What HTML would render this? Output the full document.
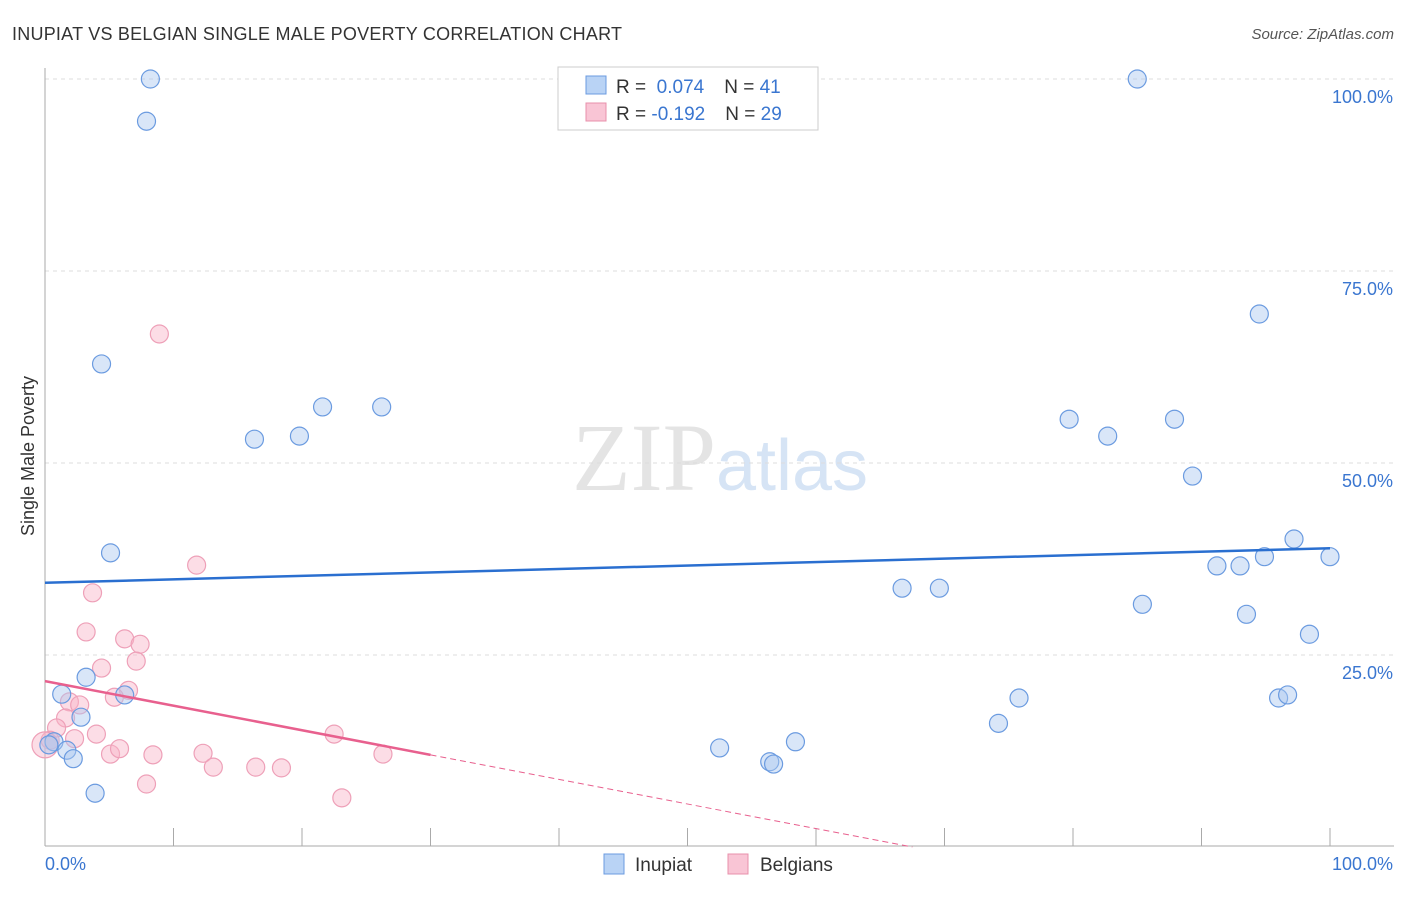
<!DOCTYPE html>
<html><head><meta charset="utf-8"><style>
body{margin:0;background:#fff;font-family:"Liberation Sans",sans-serif}
</style></head><body>
<svg id="chart" width="1406" height="892" xmlns="http://www.w3.org/2000/svg" font-family="Liberation Sans, sans-serif">
<text x="12" y="40" font-size="18" fill="#333" textLength="610">INUPIAT VS BELGIAN SINGLE MALE POVERTY CORRELATION CHART</text>
<text x="1394" y="39" font-size="15" fill="#555" text-anchor="end" font-style="italic">Source: ZipAtlas.com</text>
<text x="720" y="490" font-size="96" text-anchor="middle"><tspan fill="#e4e4e4" font-family="Liberation Serif, serif">ZIP</tspan><tspan fill="#d6e4f5" font-size="72">atlas</tspan></text>
<text transform="translate(34,456) rotate(-90)" font-size="18" fill="#333" text-anchor="middle">Single Male Poverty</text>
<g id="grid"></g><g id="axes"></g><g id="marks"></g>
<g>
<rect x="558" y="67" width="260" height="63" fill="#fff" stroke="#ccc"/>
<rect x="586" y="76" width="20" height="18" fill="#b9d3f5" stroke="#6b9be0"/>
<rect x="586" y="103" width="20" height="18" fill="#f9c5d5" stroke="#e890ab"/>
<text x="616" y="93" font-size="19" fill="#333">R = <tspan fill="#3a76d0">&#160;0.074</tspan><tspan dx="20">N = </tspan><tspan fill="#3a76d0"> 41</tspan></text>
<text x="616" y="120" font-size="19" fill="#333">R = <tspan fill="#3a76d0">-0.192</tspan><tspan dx="20">N = </tspan><tspan fill="#3a76d0"> 29</tspan></text>
</g>
<g>
<rect x="604" y="854" width="20" height="20" fill="#b9d3f5" stroke="#6b9be0"/>
<text x="635" y="871" font-size="19" fill="#333">Inupiat</text>
<rect x="728" y="854" width="20" height="20" fill="#f9c5d5" stroke="#e890ab"/>
<text x="760" y="871" font-size="19" fill="#333">Belgians</text>
</g>
</svg>
<script>
const yTicks=[25,50,75,100];
const xTickLabels=["0.0%","100.0%"];
const inupiatX=[8.2,7.9,85.0,4.4,94.5,21.6,26.2,16.3,19.8,79.7,82.7,87.9,89.3,5.1,97.2,100,91.2,93.0,94.9,66.7,69.6,85.4,93.5,98.4,3.2,1.3,6.2,2.8,75.8,74.2,96.0,96.7,52.5,58.4,56.4,56.7,3.9,0.7,1.7,2.2,0.3];
const inupiatY=[100,94.5,100,62.9,69.4,57.3,57.3,53.1,53.5,55.7,53.5,55.7,48.3,38.3,40.1,37.8,36.6,36.6,37.8,33.7,33.7,31.6,30.3,27.7,22.1,19.9,19.8,16.9,19.4,16.1,19.4,19.8,12.9,13.7,11.1,10.8,7.0,13.7,12.6,11.5,13.3];
const belgX=[8.9,11.8,3.7,3.2,6.2,7.4,7.1,4.4,6.5,5.4,1.9,2.7,1.6,0.9,4.0,2.3,0.4,0,5.1,5.8,8.4,12.3,13.1,16.4,18.4,22.5,26.3,7.9,23.1];
const belgY=[66.8,36.7,33.1,28.0,27.1,26.4,24.2,23.3,20.4,19.5,18.9,18.5,16.8,15.5,14.7,14.1,13.9,13.3,12.1,12.8,12.0,12.2,10.4,10.4,10.3,14.7,12.1,8.2,6.4];
const inupiatTrend=[34.4,38.9];
const belgTrend=[21.6,12.0];
const belgSolidEnd=30;
const NS="http://www.w3.org/2000/svg";
const X=v=>45+v*12.85, Y=v=>847-v*7.68;
function mk(parent,tag,attrs){const e=document.createElementNS(NS,tag);for(const k in attrs)e.setAttribute(k,attrs[k]);document.getElementById(parent).appendChild(e);return e;}
yTicks.forEach(t=>{
 const l=mk('grid','line',{x1:45,x2:1394,y1:Y(t),y2:Y(t),stroke:'#ddd','stroke-dasharray':'4,4'});
 
 
 const tx=mk('grid','text',{x:1393,y:Y(t)+24,'font-size':18,fill:'#3a76d0','text-anchor':'end'});
 tx.textContent=t.toFixed(1)+'%';
 
 
});
let ax=mk('axes','line',{x1:45,x2:45,y1:68,y2:846,stroke:'#aaa'});


ax=mk('axes','line',{x1:45,x2:1394,y1:846,y2:846,stroke:'#aaa'});


for(let i=1;i<=10;i++){const t=mk('axes','line',{x1:X(i*10),x2:X(i*10),y1:828,y2:846,stroke:'#aaa'});
 
 }
let xl=mk('axes','text',{x:45,y:870,'font-size':18,fill:'#3a76d0'});xl.textContent=xTickLabels[0];


xl=mk('axes','text',{x:1393,y:870,'font-size':18,fill:'#3a76d0','text-anchor':'end'});xl.textContent=xTickLabels[1];


belgX.forEach((v,i)=>{const c=mk('marks','circle',{cx:X(v),cy:Y(belgY[i]),r:i==17?13:9,fill:'rgba(249,180,200,0.45)',stroke:'#eea0b8','stroke-width':1.2});
 
 });
inupiatX.forEach((v,i)=>{const c=mk('marks','circle',{cx:X(v),cy:Y(inupiatY[i]),r:9,fill:'rgba(170,200,240,0.45)',stroke:'#6b9be0','stroke-width':1.2});
 
 });
let tl=mk('marks','line',{x1:X(0),y1:Y(inupiatTrend[0]),x2:X(100),y2:Y(inupiatTrend[1]),stroke:'#2a6fd0','stroke-width':2.5});


const slope=(belgTrend[1]-belgTrend[0])/belgSolidEnd;
tl=mk('marks','line',{x1:X(0),y1:Y(belgTrend[0]),x2:X(belgSolidEnd),y2:Y(belgTrend[1]),stroke:'#e8608e','stroke-width':2.5});


const xEnd=-belgTrend[0]/slope;
tl=mk('marks','line',{x1:X(belgSolidEnd),y1:Y(belgTrend[1]),x2:X(xEnd),y2:Y(0),stroke:'#e8608e','stroke-width':1,'stroke-dasharray':'6,4'});


</script>
</body></html>
